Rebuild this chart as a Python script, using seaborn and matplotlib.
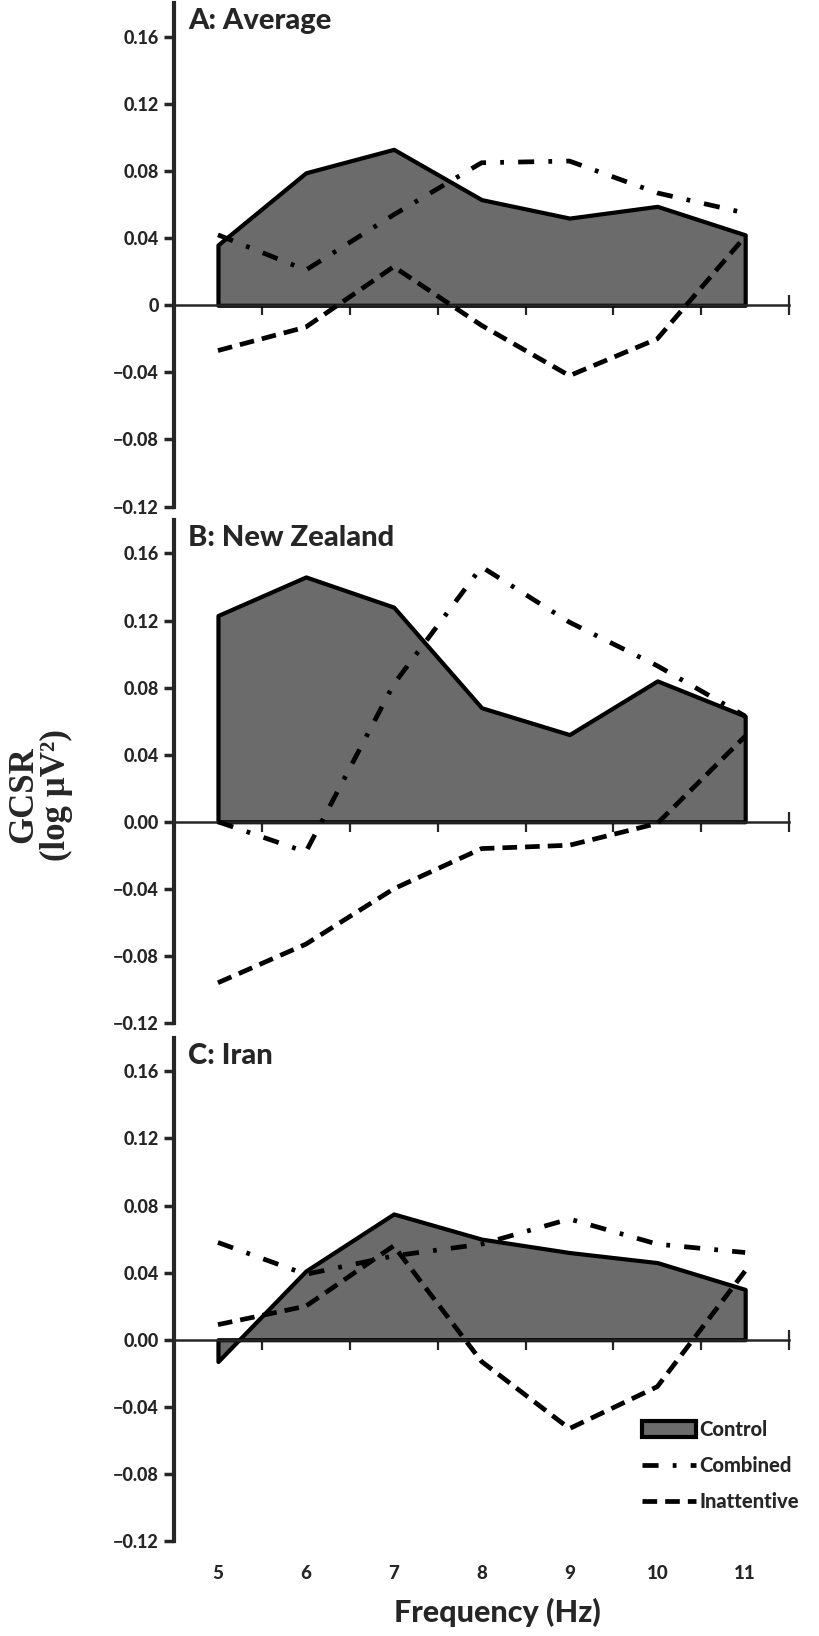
import matplotlib
matplotlib.use('Agg')
import matplotlib.pyplot as plt
import seaborn as sns

freq = [5, 6, 7, 8, 9, 10, 11]

# A: Average
avg_control = [0.036, 0.079, 0.093, 0.063, 0.052, 0.059, 0.042]
avg_combined = [0.042, 0.021, 0.054, 0.085, 0.086, 0.067, 0.055]
avg_inattentive = [-0.027, -0.013, 0.023, -0.012, -0.042, -0.020, 0.041]

# B: New Zealand
nz_control = [0.123, 0.146, 0.128, 0.068, 0.052, 0.084, 0.063]
nz_combined = [0.000, -0.018, 0.082, 0.152, 0.119, 0.093, 0.063]
nz_inattentive = [-0.096, -0.073, -0.040, -0.016, -0.014, -0.001, 0.051]

# C: Iran
iran_control = [-0.013, 0.041, 0.075, 0.060, 0.052, 0.046, 0.030]
iran_combined = [0.058, 0.039, 0.050, 0.057, 0.072, 0.057, 0.052]
iran_inattentive = [0.009, 0.020, 0.056, -0.013, -0.053, -0.028, 0.041]

panel_titles = ['A: Average', 'B: New Zealand', 'C: Iran']
ytick_vals = [-0.12, -0.08, -0.04, 0, 0.04, 0.08, 0.12, 0.16]
ytick_labels_a = ['\u22120.12', '\u22120.08', '\u22120.04', '0', '0.04', '0.08', '0.12', '0.16']
ytick_labels_bc = ['\u22120.12', '\u22120.08', '\u22120.04', '0.00', '0.04', '0.08', '0.12', '0.16']

panels = [
    (avg_control, avg_combined, avg_inattentive, ytick_labels_a),
    (nz_control, nz_combined, nz_inattentive, ytick_labels_bc),
    (iran_control, iran_combined, iran_inattentive, ytick_labels_bc),
]

sns.set_style('ticks')
plt.rcParams['font.family'] = ['Lato', 'DejaVu Sans']
plt.rcParams['font.weight'] = 'black'

fig = plt.figure(figsize=(8.19, 16.36), dpi=100)
bottoms = [0.6904, 0.3747, 0.0581]
fill_color = '#6b6b6b'
wt = 'black'

for i, (control, combined, inattentive, ylabels) in enumerate(panels):
    ax = fig.add_axes([0.2125, bottoms[i], 0.751, 0.3075])

    ax.fill_between(freq, control, 0, facecolor=fill_color, edgecolor='black',
                    linewidth=3, label='Control', zorder=2)
    sns.lineplot(x=freq, y=combined, ax=ax, color='black', linewidth=3.4,
                 linestyle=(0, (3.4, 3.0, 0.8, 3.0)), label='Combined', zorder=3)
    sns.lineplot(x=freq, y=inattentive, ax=ax, color='black', linewidth=3.4,
                 linestyle=(0, (3.1, 1.7)), label='Inattentive', zorder=3)

    ax.set_xlim(4.5, 11.5)
    ax.set_ylim(-0.12, 0.18)
    ax.set_yticks(ytick_vals)
    ax.set_yticklabels(ylabels, fontsize=13, fontweight=wt)
    ax.tick_params(axis='y', direction='out', length=7, width=2.5, pad=4)

    # x axis line crosses at zero, ticks between categories
    ax.spines['bottom'].set_position(('data', 0))
    ax.spines['bottom'].set_linewidth(1.8)
    ax.spines['left'].set_linewidth(3)
    ax.spines['top'].set_visible(False)
    ax.spines['right'].set_visible(False)
    ax.set_xticks([x + 0.5 for x in freq])
    ax.set_xticklabels([])
    ax.tick_params(axis='x', direction='inout', length=14, width=1.6)
    ax.set_xlabel('')
    ax.set_ylabel('')

    ax.text(0.023, 0.99, panel_titles[i], transform=ax.transAxes, ha='left', va='top',
            fontsize=21, fontweight=wt, zorder=5)

    if i < 2:
        ax.get_legend().remove()
    else:
        secax = ax.secondary_xaxis('bottom')
        secax.set_xticks(freq)
        secax.set_xticklabels([str(f) for f in freq], fontsize=13.5, fontweight=wt)
        secax.tick_params(length=0, pad=17)
        secax.spines['bottom'].set_visible(False)
        ax.legend(loc='upper left', bbox_to_anchor=(642 / 819, 1 - 1420 / 1636),
                  bbox_transform=fig.transFigure, frameon=False,
                  handlelength=2.7, handleheight=0.8, handletextpad=0.15,
                  labelspacing=0.85, borderpad=0, borderaxespad=0,
                  prop={'weight': wt, 'size': 14.5})

fig.text(40 / 819, 1 - 795 / 1636, 'GCSR\n(log \u00b5V\u00b2)', rotation=90,
         ha='center', va='center', multialignment='center', linespacing=1.0,
         fontsize=25, fontweight='bold', family=['Liberation Serif', 'DejaVu Serif'])
fig.text(497 / 819, 1 - 1612 / 1636, 'Frequency (Hz)', ha='center', va='center',
         fontsize=22, fontweight=wt)

fig.savefig('out.png', dpi=100)
plt.close(fig)
